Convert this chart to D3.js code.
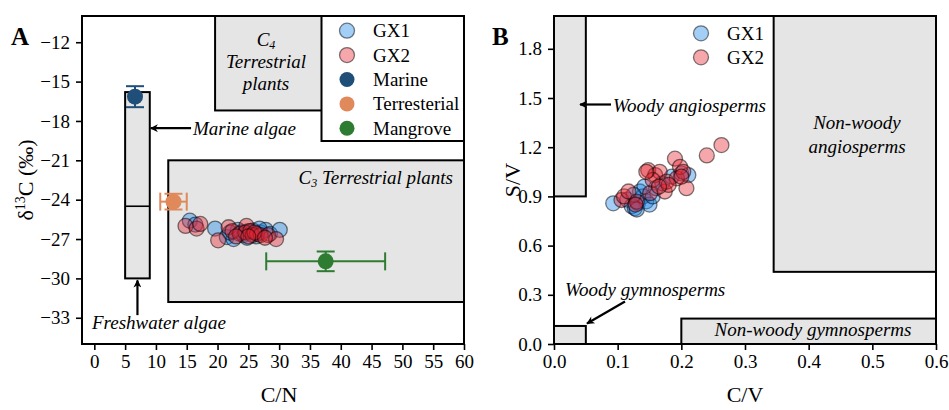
<!DOCTYPE html>
<html>
<head>
<meta charset="utf-8">
<script src="https://cdn.jsdelivr.net/npm/d3@7"></script>
<style>
  body { margin: 0; background: #fff; }
  text { font-family: "Liberation Serif", "DejaVu Serif", serif; }
</style>
</head>
<body>
<script>
// ---- data ----
// panel A: C/N vs d13C
const gx1A = [[15.5,-25.6],[16.4,-25.9],[19.6,-26.2],[21.5,-26.85],[22.6,-27.0],[23.3,-26.3],[24.2,-26.7],
  [25.0,-26.4],[25.8,-26.35],[26.3,-26.8],[27.0,-26.5],[27.8,-26.3],[28.5,-26.6],[30.1,-26.3],[24.8,-26.9],
  [22.0,-26.5],[26.8,-26.2],[23.8,-26.5]];
const gx2A = [[14.8,-26.0],[16.6,-26.2],[17.2,-25.85],[20.1,-27.1],[21.8,-26.1],[22.4,-26.4],[23.6,-26.6],
  [24.7,-26.0],[24.5,-26.5],[25.3,-26.4],[25.7,-26.7],[26.4,-26.6],[27.0,-26.7],[28.2,-26.7],[29.5,-27.0],
  [26.0,-26.5],[23.0,-26.8],[27.7,-26.9],[25.0,-26.8]];
// end members: mean and error
const endNames = ["Marine", "Terresterial", "Mangrove"];
const endCN = [6.6, 12.85, 37.55];
const endCNErr = [0, 2.15, 9.65];
const endD13C = [-16.15, -24.15, -28.7];
const endD13CErr = [0.8, 0.6, 0.75];
const endColors = ["#1f4e79", "#e0895a", "#2e7b32"];

// panel B: C/V vs S/V
const gx1B = [[0.093,0.858],[0.115,0.88],[0.122,0.84],[0.127,0.828],[0.132,0.86],[0.135,0.93],[0.14,0.9],
  [0.145,0.87],[0.15,0.85],[0.155,0.9],[0.16,0.95],[0.17,0.98],[0.185,1.02],[0.2,1.04],[0.211,1.03],
  [0.13,0.82],[0.142,0.96],[0.125,0.91]];
const gx2B = [[0.106,0.878],[0.11,0.9],[0.117,0.93],[0.13,0.868],[0.128,0.85],[0.148,1.06],[0.151,0.92],
  [0.159,1.03],[0.166,1.05],[0.155,1.0],[0.174,0.93],[0.177,0.99],[0.19,1.13],[0.193,1.01],[0.198,1.08],
  [0.203,1.05],[0.208,0.95],[0.18,0.97],[0.145,1.05],[0.24,1.15],[0.263,1.213],[0.165,0.96],[0.2,1.02]];

// source regions [x0, x1, y0, y1] in data units
const regionsA = [[19.6, 38, -17.2, -10], [12, 60, -31.8, -21], [5, 9, -30, -15.8]];
const algaeMedian = -24.5;
const regionsB = [[0, 0.05, 0.9, 2], [0, 0.05, 0, 0.11], [0.2, 0.6, 0, 0.155], [0.345, 0.6, 0.44, 2]];

// tick labels
const cnTicks = [0, 5, 10, 15, 20, 25, 30, 35, 40, 45, 50, 55, 60];
const d13cTicks = [-33, -30, -27, -24, -21, -18, -15, -12];
const cvTicks = [0, 0.1, 0.2, 0.3, 0.4, 0.5, 0.6];
const svTicks = [0, 0.3, 0.6, 0.9, 1.2, 1.5, 1.8];

const seriesNames = ["GX1", "GX2"];
const seriesColors = ["#1a85e8", "#e6222f"];

// ---- setup ----
const svg = d3.select("body").append("svg").attr("width", 949).attr("height", 410);
svg.append("defs").append("marker")
  .attr("id", "head").attr("viewBox", "0 0 10 10").attr("refX", 9).attr("refY", 5)
  .attr("markerWidth", 11).attr("markerHeight", 8).attr("markerUnits", "userSpaceOnUse")
  .attr("orient", "auto")
  .append("path").attr("d", "M0,0 L10,5 L0,10 L3,5 Z").attr("fill", "#000");

const xA = d3.scaleLinear().domain([-2, 60]).range([82, 464]);
const yA = d3.scaleLinear().domain([-35, -10]).range([344, 16]);
const xB = d3.scaleLinear().domain([0, 0.6]).range([554, 936]);
const yB = d3.scaleLinear().domain([0, 2]).range([344, 16]);

const boxFill = "#e5e5e5";

function drawRegions(g, regs, x, y) {
  g.selectAll(null).data(regs).enter().append("rect")
    .attr("x", d => x(d[0])).attr("width", d => x(d[1]) - x(d[0]))
    .attr("y", d => y(d[3])).attr("height", d => y(d[2]) - y(d[3]))
    .attr("fill", boxFill).attr("stroke", "#000").attr("stroke-width", 2);
}

function drawPoints(g, data, x, y, color) {
  g.append("g").selectAll("circle").data(data).enter().append("circle")
    .attr("cx", d => x(d[0])).attr("cy", d => y(d[1])).attr("r", 7.5)
    .attr("fill", color).attr("fill-opacity", 0.4)
    .attr("stroke", "#000").attr("stroke-opacity", 0.5).attr("stroke-width", 1.3);
}

function italic(g, x, y, str, anchor) {
  return g.append("text").attr("x", x).attr("y", y).attr("text-anchor", anchor || "start")
    .attr("font-style", "italic").attr("font-size", 19).text(str);
}

function arrow(g, x1, y1, x2, y2) {
  g.append("line").attr("x1", x1).attr("y1", y1).attr("x2", x2).attr("y2", y2)
    .attr("stroke", "#000").attr("stroke-width", 2.2).attr("marker-end", "url(#head)");
}

function drawAxes(g, x, y, xt, yt, fmtX, fmtY, xRange, yRange) {
  const ax = g.append("g").attr("transform", "translate(0," + yRange[0] + ")")
    .call(d3.axisBottom(x).tickValues(xt).tickFormat(fmtX).tickSize(6).tickPadding(5));
  const ay = g.append("g").attr("transform", "translate(" + xRange[0] + ",0)")
    .call(d3.axisLeft(y).tickValues(yt).tickFormat(fmtY).tickSize(6).tickPadding(6));
  [ax, ay].forEach(a => {
    a.select(".domain").remove();
    a.selectAll("line").attr("stroke-width", 1.6);
    a.selectAll("text").attr("font-size", 19).attr("font-family", "Liberation Serif");
  });
  g.append("rect").attr("x", xRange[0]).attr("y", yRange[1])
    .attr("width", xRange[1] - xRange[0]).attr("height", yRange[0] - yRange[1])
    .attr("fill", "none").attr("stroke", "#000").attr("stroke-width", 2);
}

// ---- panel A ----
const gA = svg.append("g");
drawRegions(gA, regionsA, xA, yA);
gA.append("line").attr("x1", xA(5)).attr("x2", xA(9)).attr("y1", yA(algaeMedian)).attr("y2", yA(algaeMedian))
  .attr("stroke", "#000").attr("stroke-width", 1.6);

// C4 label
const c4 = gA.append("text").attr("x", 266).attr("y", 46).attr("text-anchor", "middle")
  .attr("font-style", "italic").attr("font-size", 19);
c4.append("tspan").text("C");
c4.append("tspan").attr("font-size", 12).attr("dy", 3).text("4");
italic(gA, 266, 68, "Terrestrial", "middle");
italic(gA, 266, 90, "plants", "middle");

const c3 = gA.append("text").attr("x", 453).attr("y", 184).attr("text-anchor", "end")
  .attr("font-style", "italic").attr("font-size", 19);
c3.append("tspan").text("C");
c3.append("tspan").attr("font-size", 12).attr("dy", 3).text("3");
c3.append("tspan").attr("dy", -3).text(" Terrestrial plants");

italic(gA, 193, 135, "Marine algae");
arrow(gA, xA(15.7), yA(-18.55), xA(9.15), yA(-18.55));
italic(gA, 92, 329, "Freshwater algae");
arrow(gA, xA(7), yA(-32.8), xA(7), yA(-30.15));

drawPoints(gA, gx1A, xA, yA, seriesColors[0]);
drawPoints(gA, gx2A, xA, yA, seriesColors[1]);

// end members with error bars
const cap = 9;
endNames.forEach((n, i) => {
  const c = endColors[i];
  const g = gA.append("g").attr("stroke", c).attr("stroke-width", 2);
  const cx = xA(endCN[i]), cy = yA(endD13C[i]);
  if (endCNErr[i] > 0) {
    const xl = xA(endCN[i] - endCNErr[i]), xr = xA(endCN[i] + endCNErr[i]);
    g.append("line").attr("x1", xl).attr("x2", xr).attr("y1", cy).attr("y2", cy);
    g.append("line").attr("x1", xl).attr("x2", xl).attr("y1", cy - cap).attr("y2", cy + cap);
    g.append("line").attr("x1", xr).attr("x2", xr).attr("y1", cy - cap).attr("y2", cy + cap);
  }
  const yt = yA(endD13C[i] + endD13CErr[i]), yb = yA(endD13C[i] - endD13CErr[i]);
  g.append("line").attr("x1", cx).attr("x2", cx).attr("y1", yt).attr("y2", yb);
  g.append("line").attr("x1", cx - cap).attr("x2", cx + cap).attr("y1", yt).attr("y2", yt);
  g.append("line").attr("x1", cx - cap).attr("x2", cx + cap).attr("y1", yb).attr("y2", yb);
  gA.append("circle").attr("cx", cx).attr("cy", cy).attr("r", 8).attr("fill", c);
});

// legend A
const legA = gA.append("g");
legA.append("rect").attr("x", 321.5).attr("y", 16).attr("width", 464 - 321.5).attr("height", 125)
  .attr("fill", "#fff").attr("stroke", "#000").attr("stroke-width", 2);
const legItems = seriesNames.map((n, i) => ({ name: n, color: seriesColors[i], alpha: true }))
  .concat(endNames.map((n, i) => ({ name: n, color: endColors[i], alpha: false })));
legItems.forEach((d, i) => {
  const cy = 30.7 + i * 24.4;
  legA.append("circle").attr("cx", 347).attr("cy", cy).attr("r", 7.5)
    .attr("fill", d.color).attr("fill-opacity", d.alpha ? 0.4 : 1)
    .attr("stroke", d.alpha ? "#000" : "none").attr("stroke-opacity", 0.5).attr("stroke-width", 1.3);
  legA.append("text").attr("x", 373).attr("y", cy + 6.5).attr("font-size", 19).text(d.name);
});

const fmtA = d => d3.format("d")(d);
drawAxes(gA, xA, yA, cnTicks, d13cTicks, fmtA, fmtA, [82, 464], [344, 16]);

// panel A labels
svg.append("text").attr("x", 11).attr("y", 45).attr("font-size", 25).attr("font-weight", "bold").text("A");
svg.append("text").attr("x", 279).attr("y", 402).attr("text-anchor", "middle").attr("font-size", 22).text("C/N");
const ylabA = svg.append("text").attr("transform", "translate(33,180) rotate(-90)")
  .attr("text-anchor", "middle").attr("font-size", 22);
ylabA.append("tspan").text("δ");
ylabA.append("tspan").attr("font-size", 14).attr("dy", -8).text("13");
ylabA.append("tspan").attr("dy", 8).text("C (‰)");

// ---- panel B ----
const gB = svg.append("g");
drawRegions(gB, regionsB, xB, yB);

italic(gB, 613, 112, "Woody angiosperms");
arrow(gB, 611, 104.5, 580, 104.5);
italic(gB, 857, 129, "Non-woody", "middle");
italic(gB, 857, 153, "angiosperms", "middle");
italic(gB, 565, 296, "Woody gymnosperms");
arrow(gB, 625, 301.5, 587, 323.5);
italic(gB, 813, 336, "Non-woody gymnosperms", "middle");

drawPoints(gB, gx1B, xB, yB, seriesColors[0]);
drawPoints(gB, gx2B, xB, yB, seriesColors[1]);

// legend B
seriesNames.forEach((n, i) => {
  const cy = 33.3 + i * 24;
  gB.append("circle").attr("cx", 701).attr("cy", cy).attr("r", 7.5)
    .attr("fill", seriesColors[i]).attr("fill-opacity", 0.4)
    .attr("stroke", "#000").attr("stroke-opacity", 0.5).attr("stroke-width", 1.3);
  gB.append("text").attr("x", 727).attr("y", cy + 6.5).attr("font-size", 19).text(n);
});

const fmtB = d3.format(".1f");
drawAxes(gB, xB, yB, cvTicks, svTicks, fmtB, fmtB, [554, 936], [344, 16]);

svg.append("text").attr("x", 492).attr("y", 45).attr("font-size", 25).attr("font-weight", "bold").text("B");
svg.append("text").attr("x", 745).attr("y", 402).attr("text-anchor", "middle").attr("font-size", 22).text("C/V");
svg.append("text").attr("transform", "translate(520,180) rotate(-90)")
  .attr("text-anchor", "middle").attr("font-size", 22).text("S/V");
</script>
</body>
</html>
